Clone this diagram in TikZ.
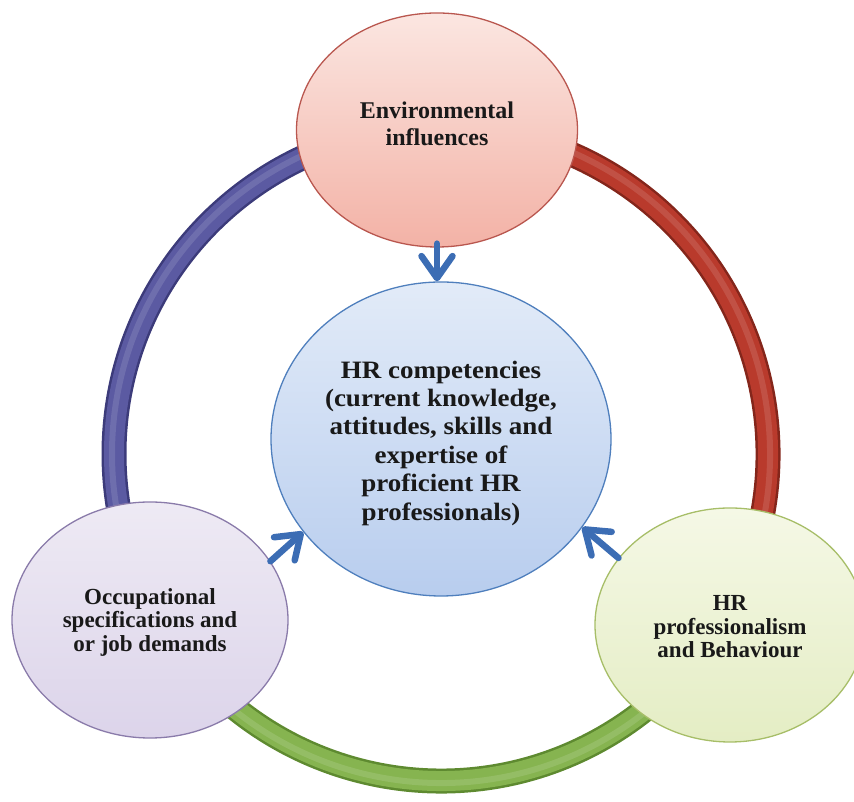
\documentclass[tikz,border=0pt]{standalone}
\usepackage{fontspec}
\setmainfont{Liberation Serif}
\newfontfamily\widefont[FakeStretch=1.08]{Liberation Serif}
\usetikzlibrary{shapes.geometric,arrows.meta}
\definecolor{ringP}{HTML}{5B5AA2}
\definecolor{ringPd}{HTML}{3C3B7A}
\definecolor{ringR}{HTML}{B93A2C}
\definecolor{ringRd}{HTML}{84261B}
\definecolor{ringG}{HTML}{86B450}
\definecolor{ringGd}{HTML}{5E8A30}
\definecolor{arrowblue}{HTML}{3C6DB4}
\definecolor{envD}{HTML}{B9574F}
\definecolor{envT}{HTML}{FBE6E1}
\definecolor{envB}{HTML}{F3B2A6}
\definecolor{occD}{HTML}{8A7BAA}
\definecolor{occT}{HTML}{EEEAF4}
\definecolor{occB}{HTML}{DCD4EA}
\definecolor{profD}{HTML}{A7BE68}
\definecolor{profT}{HTML}{F5F8E6}
\definecolor{profB}{HTML}{E4EDC4}
\definecolor{hrD}{HTML}{4F7FBD}
\definecolor{hrT}{HTML}{E2EBF8}
\definecolor{hrB}{HTML}{B8CDEE}
\tikzset{
  bubble/.style={inner sep=0pt, line width=1.3pt},
  txt/.style={align=center, inner sep=0pt, text=black!90},
  arr/.style={draw=arrowblue, line width=6.5pt, line cap=round,
    -{Straight Barb[length=22pt, width=31pt, line width=6.5pt, round]}}
}
\begin{document}
\begin{tikzpicture}[x=1pt,y=1pt]
\useasboundingbox (0,0) rectangle (854,802);
\coordinate (o) at (441,348);
% ring segments
\foreach \a/\b/\dc/\mc in {90/210/ringPd/ringP, 210/330/ringGd/ringG, -30/90/ringRd/ringR}{
  \draw[line width=25pt, \dc] ([shift={(\a:327)}]o) arc[start angle=\a, end angle=\b, radius=327];
  \draw[line width=20pt, \mc] ([shift={(\a:327)}]o) arc[start angle=\a, end angle=\b, radius=327];
  \draw[line width=6pt, white, opacity=0.12] ([shift={(\a:329)}]o) arc[start angle=\a, end angle=\b, radius=329];
}
% bubbles
\node[bubble, ellipse, minimum width=281pt, minimum height=234pt,
  draw=envD, top color=envT, bottom color=envB] (env) at (437,672) {};
\node[bubble, ellipse, minimum width=276pt, minimum height=236pt,
  draw=occD, top color=occT, bottom color=occB] (occ) at (150,182) {};
\node[bubble, ellipse, minimum width=270pt, minimum height=234pt,
  draw=profD, top color=profT, bottom color=profB] (prof) at (730,177) {};
\node[bubble, ellipse, minimum width=340pt, minimum height=314pt,
  draw=hrD, top color=hrT, bottom color=hrB] (hr) at (441,363) {};
% texts
\node[txt, font=\fontsize{24}{26.7}\selectfont\bfseries] (envt) at (437,678) {Environmental\\influences};
\node[txt, font=\widefont\fontsize{25}{28.4}\selectfont\bfseries] (hrt) at (441,359)
  {HR competencies\\(current knowledge,\\attitudes, skills and\\expertise of\\proficient HR\\professionals)};
\node[txt, font=\fontsize{23}{23.5}\selectfont\bfseries] (occt) at (150,180) {Occupational\\specifications and\\or job demands};
\node[txt, font=\fontsize{23}{23.5}\selectfont\bfseries] (proft) at (730,175) {HR\\professionalism\\and Behaviour};
% arrows
\draw[arr, shorten <=-4pt] (env.south) -- (env.south |- hr.north);
\draw[arr] (occ.26) -- (hr.214);
\draw[arr] (prof.149) -- (hr.328);
\end{tikzpicture}
\end{document}
